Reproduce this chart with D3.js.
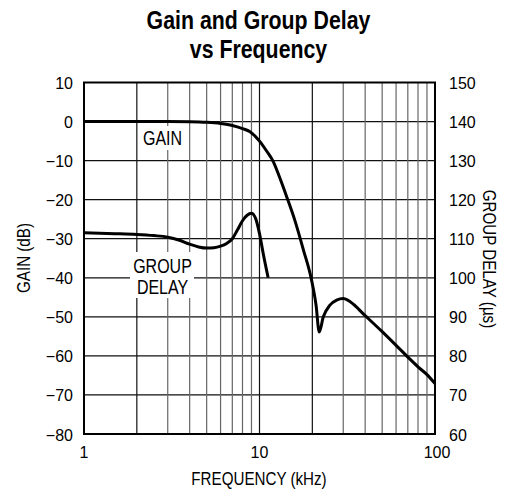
<!DOCTYPE html>
<html>
<head>
<meta charset="utf-8">
<script src="https://cdn.jsdelivr.net/npm/d3@7"></script>
<style>
  body { margin: 0; background: #fff; }
  svg { display: block; }
  text { font-family: "Liberation Sans", Arial, sans-serif; fill: #000; }
  .tick { font-size: 16px; }
</style>
</head>
<body>
<svg width="517" height="493"></svg>
<script>
// frequency in kHz, gain in dB
var gainFreq = [1, 2, 3, 4, 5, 6, 7, 8, 8.83, 10, 11, 12, 13, 14.3, 15.9, 17.8, 19.8, 21, 21.9, 23.1, 25.2, 27.5, 30, 33, 40, 50, 60, 70, 80, 90, 100];
var gainDb = [0, 0, 0, -0.05, -0.2, -0.5, -1.0, -1.8, -2.6, -5.0, -7.6, -10.3, -14.2, -19.3, -25.3, -32.9, -40.6, -47, -53.9, -50, -47, -45.7, -45.3, -46.2, -49.7, -53.8, -57.3, -60.3, -62.8, -64.8, -67.1];

// group delay in us
var delayFreq = [1, 1.5, 2, 2.5, 3, 3.5, 4, 4.5, 5, 5.5, 6, 6.5, 7, 7.5, 8, 8.5, 9, 9.5, 10, 10.5, 11.2];
var delayUs = [111.5, 111.3, 111.1, 110.8, 110.4, 109.6, 108.6, 107.9, 107.6, 107.7, 108.1, 108.8, 110, 112.3, 114.6, 116, 116.5, 115.2, 111.3, 106.2, 100];

var gainTicks = [10, 0, -10, -20, -30, -40, -50, -60, -70, -80];
var delayTicks = [150, 140, 130, 120, 110, 100, 90, 80, 70, 60];
var freqTicks = [1, 10, 100];
var freqGrid = [2, 3, 4, 5, 6, 7, 8, 9, 10, 20, 30, 40, 50, 60, 70, 80, 90];

var svg = d3.select("svg");
var pLeft = 84, pRight = 435, pTop = 82.5, pBottom = 434;

var x = d3.scaleLog().domain([1, 100]).range([pLeft, pRight]);
var yGain = d3.scaleLinear().domain([-80, 10]).range([pBottom, pTop]);
var yDelay = d3.scaleLinear().domain([60, 150]).range([pBottom, pTop]);

// condensed text (no narrow face installed, so squeeze it)
function narrow(tx, ty, size, str, rot, bold) {
    var t = svg.append("text")
        .attr("transform", "translate(" + tx + "," + ty + ")" + (rot ? " rotate(" + rot + ")" : "") + " scale(0.82,1)")
        .attr("text-anchor", "middle")
        .style("font-size", size + "px")
        .text(str);
    if (bold) t.style("font-weight", "bold");
    return t;
}

// title
narrow(258.5, 29, 26, "Gain and Group Delay", 0, true);
narrow(258.5, 58, 26, "vs Frequency", 0, true);

var grid = svg.append("g");

// horizontal grid
grid.selectAll("line.h")
    .data(gainTicks.slice(1, -1))
    .enter().append("line")
    .attr("class", "h")
    .attr("x1", pLeft).attr("x2", pRight)
    .attr("y1", function (d) { return yGain(d); })
    .attr("y2", function (d) { return yGain(d); })
    .attr("stroke", "#111").attr("stroke-width", 1.2);

// vertical grid
grid.selectAll("line.v")
    .data(freqGrid)
    .enter().append("line")
    .attr("class", "v")
    .attr("x1", function (d) { return x(d); })
    .attr("x2", function (d) { return x(d); })
    .attr("y1", pTop).attr("y2", pBottom)
    .attr("stroke", function (d) { return (d == 2 || d == 20 || d == 10) ? "#111" : "#666"; })
    .attr("stroke-width", 1.2);

// white boxes behind the curve labels
svg.append("rect").attr("x", 140).attr("y", 126).attr("width", 46).attr("height", 24).attr("fill", "#fff");
svg.append("rect").attr("x", 130).attr("y", 252).attr("width", 64).attr("height", 46).attr("fill", "#fff");

// frame
svg.append("rect")
    .attr("x", pLeft).attr("y", pTop)
    .attr("width", pRight - pLeft).attr("height", pBottom - pTop)
    .attr("fill", "none").attr("stroke", "#000").attr("stroke-width", 2);

// curves
var gainPts = gainFreq.map(function (f, i) { return [f, gainDb[i]]; });
var delayPts = delayFreq.map(function (f, i) { return [f, delayUs[i]]; });

var gainLine = d3.line()
    .x(function (d) { return x(d[0]); })
    .y(function (d) { return yGain(d[1]); })
    .curve(d3.curveMonotoneX);
var delayLine = d3.line()
    .x(function (d) { return x(d[0]); })
    .y(function (d) { return yDelay(d[1]); })
    .curve(d3.curveMonotoneX);

// the notch is a sharp cusp, so draw both sides of it separately
var notch = d3.minIndex(gainDb);
[gainPts.slice(0, notch + 1), gainPts.slice(notch)].forEach(function (part) {
    svg.append("path").attr("d", gainLine(part))
        .attr("fill", "none").attr("stroke", "#000").attr("stroke-width", 3);
});
svg.append("path").attr("d", delayLine(delayPts))
    .attr("fill", "none").attr("stroke", "#000").attr("stroke-width", 3);

// curve labels
narrow(162.5, 145, 19.5, "GAIN");
narrow(162.5, 272.5, 19.5, "GROUP");
narrow(162.5, 294, 19.5, "DELAY");

// tick labels
svg.selectAll("text.gl")
    .data(gainTicks).enter().append("text")
    .attr("class", "tick gl")
    .attr("x", 73).attr("y", function (d) { return yGain(d) + 6.5; })
    .attr("text-anchor", "end")
    .text(function (d) { return d < 0 ? "\u2212" + Math.abs(d) : d; });

svg.selectAll("text.dl")
    .data(delayTicks).enter().append("text")
    .attr("class", "tick dl")
    .attr("x", 449).attr("y", function (d) { return yDelay(d) + 6.5; })
    .text(function (d) { return d; });

svg.selectAll("text.fl")
    .data(freqTicks).enter().append("text")
    .attr("class", "tick fl")
    .attr("x", function (d) { return x(d) + (d == 100 ? 2 : 0); })
    .attr("y", 458)
    .attr("text-anchor", "middle")
    .text(function (d) { return d; });

// axis titles
narrow(259, 485, 18.5, "FREQUENCY (kHz)");
narrow(30, 258, 18.5, "GAIN (dB)", -90);
narrow(483, 259, 18.5, "GROUP DELAY (\u00b5s)", 90);
</script>
</body>
</html>
